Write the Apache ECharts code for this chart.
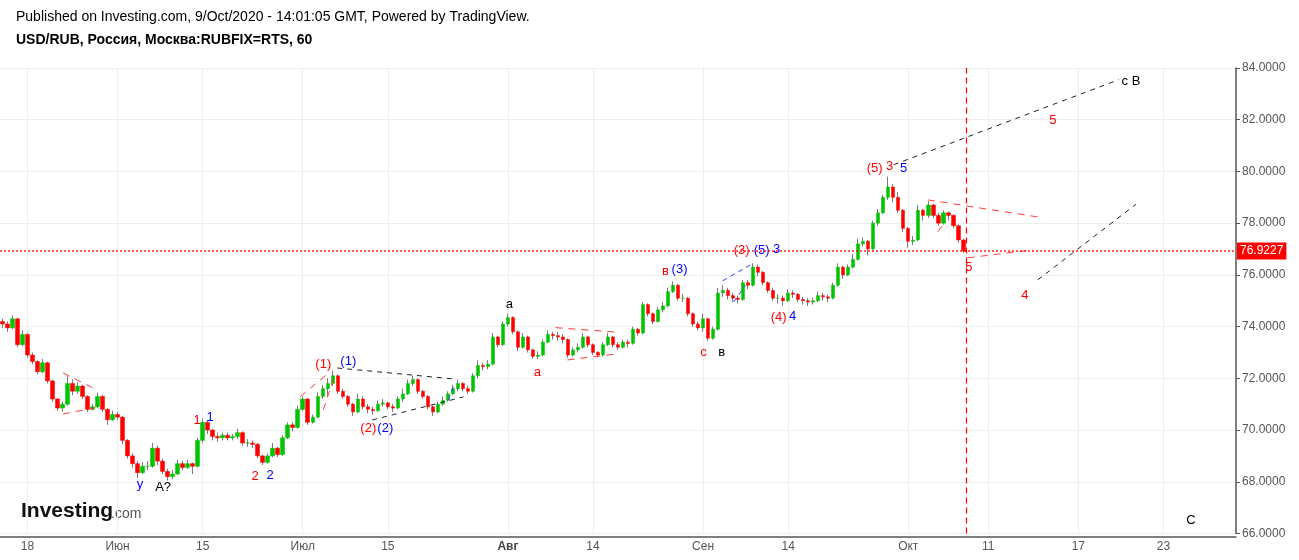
<!DOCTYPE html>
<html><head><meta charset="utf-8">
<script src="https://cdn.jsdelivr.net/npm/echarts/dist/echarts.min.js"></script>
<style>html,body{margin:0;padding:0;background:#fff}#c{width:1299px;height:560px}</style>
</head><body><div id="c"></div>
<script>
// ---- data (price readings, roughly two bars per trading day) ----
const firstOpen = 74.2;
const closes = [
74.1,73.95,74.3,73.3,73.7,72.9,72.65,72.25,72.6,71.9,
71.2,70.85,71.0,71.8,71.5,71.7,71.3,70.8,70.9,71.3,
70.8,70.4,70.6,70.5,69.6,69.0,68.7,68.35,68.6,68.6,
69.3,68.8,68.4,68.2,68.3,68.7,68.55,68.7,68.6,69.6,
70.3,70.0,69.75,69.7,69.8,69.7,69.75,69.9,69.5,69.5,
69.45,69.0,68.75,69.0,69.3,69.05,69.7,70.2,70.1,70.8,
71.2,70.3,70.5,71.3,71.6,71.8,72.1,71.5,71.3,71.0,
70.7,71.2,70.9,70.8,70.75,71.0,71.05,70.9,70.85,71.2,
71.4,71.8,71.95,71.5,71.3,70.9,70.7,71.0,71.15,71.4,
71.6,71.8,71.6,71.5,72.1,72.5,72.45,72.55,73.6,73.3,
74.1,74.35,73.8,73.2,73.6,73.1,72.85,72.9,73.4,73.7,
73.65,73.6,73.5,72.9,73.1,73.2,73.6,73.3,73.0,72.9,
73.3,73.6,73.3,73.2,73.4,73.35,73.9,73.75,74.85,74.5,
74.2,74.65,74.8,75.35,75.6,75.1,75.1,74.5,74.1,73.95,
74.3,73.55,73.9,75.3,75.4,75.2,75.1,75.05,75.7,75.6,
76.3,76.1,75.7,75.4,75.1,75.1,75.0,75.3,75.25,75.05,
75.0,74.95,75.0,75.2,75.15,75.1,75.6,76.3,76.0,76.3,
76.6,77.2,77.3,77.0,78.0,78.4,79.0,79.4,79.0,78.5,
77.8,77.3,77.35,78.5,78.3,78.7,78.3,78.0,78.4,78.3,
77.9,77.35,76.9227];
const highs = [
74.3,74.2,74.43,74.35,73.85,73.75,73.0,72.7,72.75,72.65,
71.95,71.25,71.1,72.1,71.95,71.85,71.75,71.35,71.0,71.45,
71.35,70.85,70.75,70.7,70.55,69.65,69.1,68.8,68.75,68.8,
69.5,69.4,68.9,68.5,68.45,68.85,68.8,68.85,68.75,69.7,
70.45,70.4,70.05,69.9,69.9,69.9,69.85,70.05,69.95,69.65,
69.6,69.5,69.05,69.1,69.5,69.35,69.8,70.3,70.3,70.95,
71.3,71.25,70.6,71.45,71.75,72.0,72.3,72.15,71.6,71.35,
71.05,71.4,71.3,71.0,70.9,71.15,71.2,71.1,71.0,71.3,
71.6,71.95,72.1,72.0,71.55,71.35,70.95,71.1,71.3,71.5,
71.75,71.95,71.85,71.7,72.2,72.7,72.6,72.7,73.75,73.65,
74.2,74.5,74.4,73.85,73.75,73.65,73.15,73.05,73.5,73.85,
73.8,73.8,73.7,73.55,73.2,73.35,73.75,73.65,73.35,73.05,
73.4,73.75,73.65,73.4,73.5,73.5,74.0,73.95,74.95,74.9,
74.55,74.75,74.95,75.5,75.75,75.65,75.25,75.15,74.55,74.2,
74.5,74.35,74.0,75.5,75.6,75.5,75.3,75.2,75.8,75.8,
76.45,76.4,76.15,75.75,75.5,75.25,75.2,75.45,75.4,75.3,
75.15,75.1,75.1,75.35,75.3,75.25,75.7,76.45,76.35,76.4,
76.8,77.4,77.45,77.35,78.1,78.55,79.1,79.8,79.5,79.2,
78.55,77.85,77.5,78.7,78.55,78.85,78.75,78.4,78.5,78.45,
78.35,77.95,77.4];
const lows = [
73.95,73.8,73.9,73.2,73.25,72.8,72.55,72.15,72.2,71.8,
71.1,70.75,70.7,70.95,71.35,71.4,71.2,70.7,70.75,70.85,
70.7,70.2,70.35,70.4,69.45,68.9,68.55,68.15,68.3,68.45,
68.55,68.65,68.3,68.05,68.1,68.25,68.45,68.5,68.3,68.55,
69.5,69.85,69.6,69.55,69.6,69.6,69.6,69.65,69.4,69.35,
69.3,68.9,68.65,68.7,68.95,68.95,69.0,69.65,69.95,70.05,
70.75,70.2,70.25,70.45,71.2,71.3,71.7,71.4,71.2,70.9,
70.55,70.65,70.8,70.65,70.6,70.7,70.9,70.8,70.7,70.8,
71.1,71.35,71.7,71.4,71.2,70.8,70.55,70.65,70.95,71.1,
71.35,71.5,71.5,71.4,71.45,72.0,72.3,72.35,72.5,73.2,
73.25,74.0,73.7,73.05,73.15,73.0,72.75,72.75,72.85,73.35,
73.5,73.45,73.35,72.8,72.85,73.0,73.15,73.2,72.9,72.8,
72.85,73.25,73.2,73.1,73.15,73.2,73.3,73.65,73.7,74.4,
74.1,74.15,74.55,74.75,75.3,75.0,74.95,74.4,74.0,73.85,
73.8,73.45,73.5,73.85,75.15,75.05,74.95,74.9,75.0,75.45,
75.55,75.95,75.6,75.3,75.0,74.9,74.8,74.95,75.1,74.95,
74.85,74.8,74.85,74.95,75.0,74.95,75.05,75.55,75.85,75.95,
76.25,76.55,77.1,76.75,76.95,77.9,78.35,78.9,78.8,78.4,
77.65,77.05,77.15,77.3,78.1,78.2,78.2,77.9,77.95,78.1,
77.8,77.25,76.85];
const lastPrice = 76.9227;
const barCount = 247;               // bars incl. the empty future part
const tickLabels = ['18','Июн','15','Июл','15','Авг','14','Сен','14','Окт','11','17','23'];
const tickBars   = [5,23,40,60,77,101,118,140,157,181,197,215,232];
const nowBar = 192.5;
// wave labels: [bar, price, text]
const redLabels = [[38.9,70.39,'1'],[50.5,68.22,'2'],[64.1,72.52,'(1)'],[73.1,70.08,'(2)'],[106.9,72.21,'a'],
  [132.5,76.12,'в'],[140.1,72.99,'c'],[147.7,76.93,'(3)'],[155.1,74.37,'(4)'],[174.3,80.13,'(5)'],[177.3,80.18,'3'],
  [193.1,76.3,'5'],[204.3,75.22,'4'],[209.9,81.96,'5']];
const blueLabels = [[27.5,67.91,'у'],[41.5,70.5,'1'],[53.5,68.26,'2'],[69.1,72.64,'(1)'],[76.5,70.08,'(2)'],
  [135.3,76.2,'(3)'],[151.7,76.93,'(5)'],[154.7,76.97,'3'],[157.9,74.4,'4'],[180.1,80.1,'5']];
const blackLabels = [[32.1,67.8,'A?'],[101.3,74.84,'a'],[143.7,72.99,'в'],[225.5,83.5,'c B'],[237.5,66.5,'C']];
// dashed trend lines: [[bar,price],[bar,price]]
const redLines = [[[12.1,72.21],[18.9,71.55]],[[12.1,70.62],[19.5,70.9]],[[6.9,72.25],[8.1,72.5]],
  [[59.5,71.29],[65.5,72.26]],[[64.1,70.78],[66.1,71.95]],[[110.5,73.96],[122.5,73.79]],[[112.9,72.71],[122.5,72.94]],
  [[184.9,78.9],[207.9,78.21]],[[186.9,77.67],[188.5,78.06]],[[192.9,76.66],[205.9,76.97]]];
const blackLines = [[[66.9,72.4],[90.5,71.97]],[[73.9,70.39],[92.1,71.28]],[[178.1,80.26],[223.1,83.55]],[[206.9,75.81],[226.5,78.73]]];
const blueLines = [[[89.1,71.16],[90.1,71.67]],[[143.9,75.77],[149.5,76.39]],[[146.1,74.95],[148.5,75.6]]];

// ---- build ----
const FONT = '"Liberation Sans", Arial, sans-serif';
const categories = [];
for (let i = 0; i < barCount; i++) categories.push('');
tickBars.forEach((b, k) => { categories[b] = tickLabels[k]; });
const isTick = (idx) => categories[idx] !== '';

const ohlc = closes.map((c, i) => {
  const o = i === 0 ? firstOpen : closes[i - 1];
  return [o, c, lows[i], highs[i]];
});
const bodies = ohlc.map(d => [d[0], d[1], Math.min(d[0], d[1]), Math.max(d[0], d[1])]);

const series = [
  { type: 'candlestick', name: 'wick', data: ohlc, barWidth: 1, silent: true,
    itemStyle: { color: '#7a7a7a', color0: '#7a7a7a', borderColor: '#7a7a7a', borderColor0: '#7a7a7a', borderWidth: 1 } },
  { type: 'candlestick', name: 'body', data: bodies, barWidth: 4, silent: true,
    itemStyle: { color: '#00c400', color0: '#ff0000', borderColor: '#00c400', borderColor0: '#ff0000', borderWidth: 0.5 } }
];
// current price line (full width)
series.push({ type: 'line', xAxisIndex: 1, data: [[-0.5, lastPrice], [barCount - 0.5, lastPrice]], symbol: 'none', silent: true,
  color: '#ff0000', lineStyle: { color: '#ff0000', width: 1.3, type: [2, 2], opacity: 1 }, z: 5 });
// current price tag on the axis
series.push({ type: 'scatter', xAxisIndex: 1, data: [[barCount - 0.5, lastPrice]], symbolSize: 0, silent: true, z: 10,
  clip: false, itemStyle: { opacity: 1 },
  label: { show: true, position: 'right', distance: 1, formatter: lastPrice.toFixed(4), opacity: 1,
    backgroundColor: '#ff0000', color: '#ffffff', fontSize: 12, fontFamily: FONT, padding: [3, 3, 2, 3] } });
function addLines(list, color, dash) {
  list.forEach(seg => series.push({ type: 'line', xAxisIndex: 1, data: seg, symbol: 'none', silent: true,
    color: color, lineStyle: { color: color, width: 1, type: dash }, animation: false }));
}
addLines(redLines, '#ff3b3b', [7, 6]);
addLines(blackLines, '#222', [5, 5]);
addLines(blueLines, '#3344ff', [5, 4]);
function addLabels(list, color) {
  series.push({ type: 'scatter', xAxisIndex: 1, data: list, symbolSize: 0, silent: true, animation: false,
    itemStyle: { opacity: 1 },
    label: { show: true, position: 'inside', formatter: p => p.data[2], color: color, opacity: 1, fontSize: 13, fontFamily: FONT } });
}
addLabels(redLabels, '#ff0000');
addLabels(blueLabels, '#0000ff');
addLabels(blackLabels, '#000');
series.push({ type: 'line', xAxisIndex: 1, data: [], silent: true, color: '#ff0000',
  markLine: { symbol: 'none', silent: true, animation: false,
    data: [ { xAxis: nowBar, label: { show: false }, lineStyle: { color: '#ff0000', type: [6, 4], width: 1.2 } } ] } });

const chart = echarts.init(document.getElementById('c'));
chart.setOption({
  animation: false,
  backgroundColor: '#fff',
  textStyle: { fontFamily: FONT },
  grid: { left: 0, right: 63, top: 68, bottom: 26.5, containLabel: false },
  xAxis: [
    { type: 'category', data: categories, boundaryGap: true, offset: 3,
      axisLine: { onZero: false, lineStyle: { color: '#555', width: 1.5 } },
      axisTick: { alignWithLabel: true, interval: isTick, length: 4, lineStyle: { color: '#555' } },
      axisLabel: { interval: isTick, color: '#555', fontSize: 12, margin: 4,
        formatter: v => v === 'Авг' ? '{b|' + v + '}' : v, rich: { b: { fontWeight: 'bold', color: '#444', fontSize: 12 } } },
      splitLine: { show: true, interval: isTick, alignWithLabel: true, lineStyle: { color: '#eeeeee' } } },
    { type: 'value', min: -0.5, max: barCount - 0.5, show: false, axisLine: { onZero: false } }
  ],
  yAxis: { type: 'value', position: 'right', min: 66, max: 84, interval: 2,
    axisLine: { show: true, onZero: false, lineStyle: { color: '#555', width: 1.5 } },
    axisTick: { show: true, length: 4, lineStyle: { color: '#555' } },
    axisLabel: { color: '#555', fontSize: 12, margin: 6, formatter: v => v.toFixed(4) },
    splitLine: { show: true, lineStyle: { color: '#eeeeee' } } },
  graphic: [
    { type: 'text', left: 16, top: 10, style: { text: 'Published on Investing.com, 9/Oct/2020 - 14:01:05 GMT, Powered by TradingView.', font: '14px ' + FONT, fill: '#000' } },
    { type: 'text', left: 16, top: 33, style: { text: 'USD/RUB, Россия, Москва:RUBFIX=RTS, 60', font: 'bold 14px ' + FONT, fill: '#000' } },
    { type: 'text', left: 21, top: 501, style: { text: 'Investing', font: 'bold 21px ' + FONT, fill: '#111' } },
    { type: 'text', left: 111, top: 507, style: { text: '.com', font: '14px ' + FONT, fill: '#555' } }
  ],
  series: series
});
</script></body></html>
